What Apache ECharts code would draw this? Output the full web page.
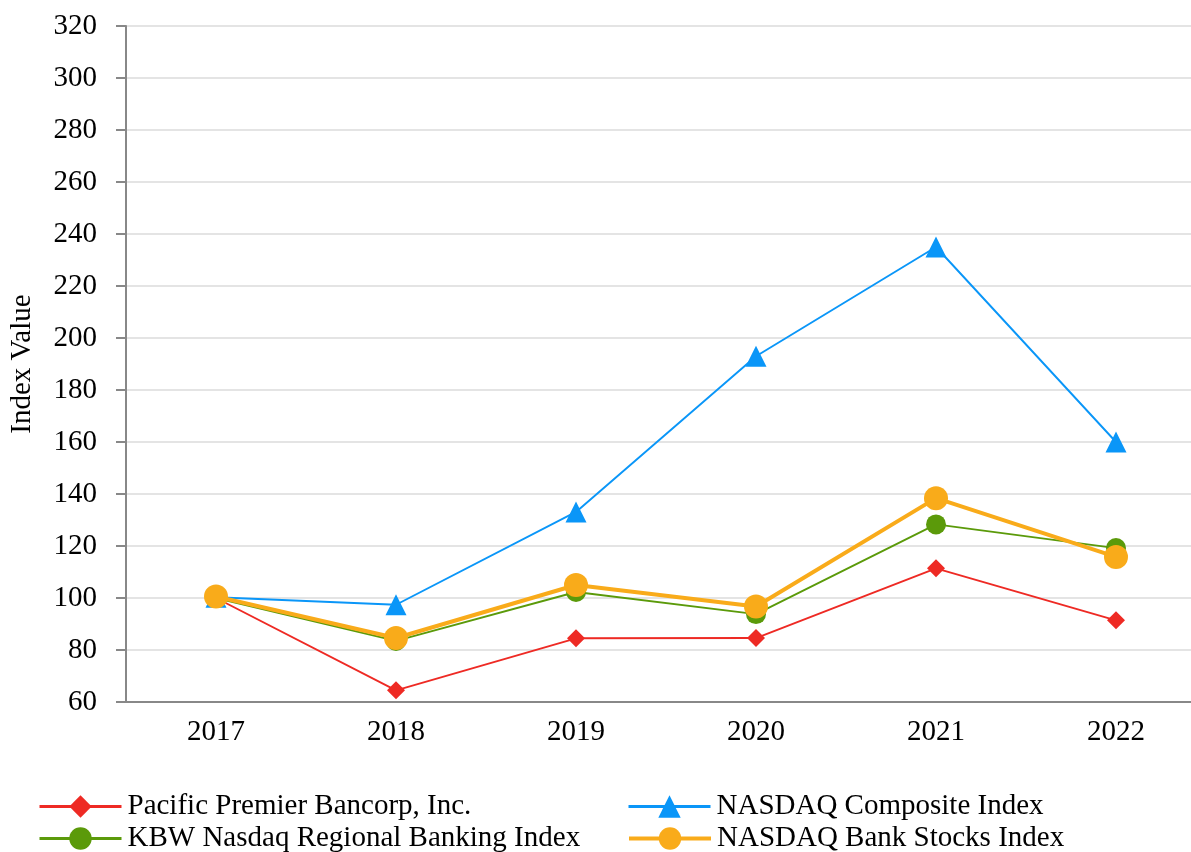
<!DOCTYPE html>
<html><head><meta charset="utf-8">
<script src="https://cdn.jsdelivr.net/npm/echarts@6/dist/echarts.min.js"></script>
<style>html,body{margin:0;padding:0;background:#fff}#c{width:1191px;height:852px}</style>
</head><body><div id="c"></div>
<script>
const categories = ['2017','2018','2019','2020','2021','2022'];
const pacific = [100, 64.5, 84.5, 84.6, 111.4, 91.4];
const nasdaqComposite = [100.3, 97.4, 133.1, 193.0, 235.0, 160.0];
const kbw = [100, 83.5, 102.3, 93.8, 128.3, 119.2];
const nasdaqBank = [100.6, 84.6, 105.0, 96.7, 138.4, 115.8];
const yTicks = {min: 60, max: 320, interval: 20};

const FONT = 'Liberation Serif';
const names = ['Pacific Premier Bancorp, Inc.', 'NASDAQ Composite Index', 'KBW Nasdaq Regional Banking Index', 'NASDAQ Bank Stocks Index'];
function leg(name, left, top, lw) {
  return {left: left, top: top, padding: 0, itemWidth: 82, itemHeight: 28, itemGap: 0,
    lineStyle: {width: lw},
    textStyle: {fontSize: 29, color: '#000', fontFamily: FONT, padding: [0,0,0,1]},
    data: [name]};
}
const chart = echarts.init(document.getElementById('c'));
chart.setOption({
  animation: false,
  textStyle: {fontFamily: FONT, color: '#000'},
  grid: {left: 126, top: 26, height: 676, width: 1080, containLabel: false, outerBoundsMode: 'none'},
  xAxis: {
    type: 'category', data: categories, boundaryGap: true,
    axisLine: {lineStyle: {color: '#888', width: 2}},
    axisTick: {alignWithLabel: true, length: 10, lineStyle: {color: '#888', width: 2}},
    axisLabel: {fontSize: 29, color: '#000', margin: 16, fontFamily: FONT}
  },
  yAxis: {
    type: 'value', min: yTicks.min, max: yTicks.max, interval: yTicks.interval,
    name: 'Index Value', nameLocation: 'middle', nameGap: 89,
    nameTextStyle: {fontSize: 29, color: '#000', fontFamily: FONT},
    axisLine: {show: true, lineStyle: {color: '#888', width: 2}},
    axisTick: {show: true, length: 10, lineStyle: {color: '#888', width: 2}},
    axisLabel: {fontSize: 29, color: '#000', margin: 29, fontFamily: FONT},
    splitLine: {lineStyle: {color: '#e4e4e4', width: 2}}
  },
  legend: [
    leg(names[0], 38, 792, 3),
    leg(names[1], 627, 792, 3),
    leg(names[2], 38, 824, 3),
    leg(names[3], 627, 824, 4)
  ],
  series: [
    {name: names[0], type: 'line', data: pacific,
     symbol: 'diamond', symbolSize: 18, color: '#ee2a24', lineStyle: {width: 1.9, color: '#ee2a24'}, itemStyle: {color: '#ee2a24'}},
    {name: names[1], type: 'line', data: nasdaqComposite,
     symbol: 'triangle', symbolSize: 21, color: '#0a96f8', lineStyle: {width: 1.9, color: '#0a96f8'}, itemStyle: {color: '#0a96f8'}},
    {name: names[2], type: 'line', data: kbw,
     symbol: 'circle', symbolSize: 20, color: '#5b9a0a', lineStyle: {width: 1.9, color: '#5b9a0a'}, itemStyle: {color: '#5b9a0a'}},
    {name: names[3], type: 'line', data: nasdaqBank,
     symbol: 'circle', symbolSize: 24, color: '#f9ab1a', lineStyle: {width: 4, color: '#f9ab1a'}, itemStyle: {color: '#f9ab1a'}}
  ]
});
</script></body></html>
